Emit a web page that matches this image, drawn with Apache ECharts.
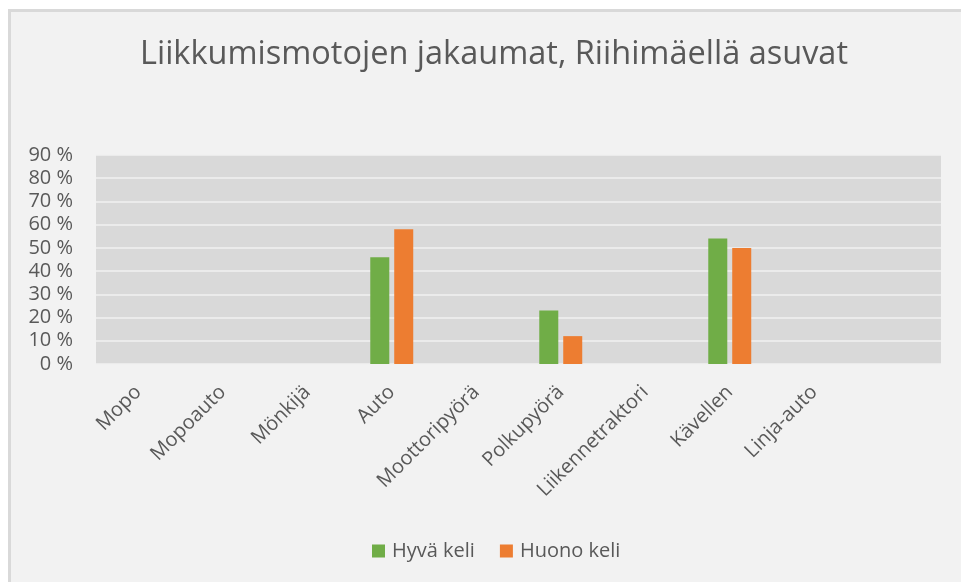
<!DOCTYPE html>
<html>
<head>
<meta charset="utf-8">
<script src="https://cdn.jsdelivr.net/npm/echarts@6/dist/echarts.min.js"></script>
<style>
html,body{margin:0;padding:0;background:#ffffff;}
#chart{width:961px;height:582px;}
</style>
</head>
<body>
<div id="chart"></div>
<script>
var categories = ['Mopo', 'Mopoauto', 'Mönkijä', 'Auto', 'Moottoripyörä', 'Polkupyörä', 'Liikennetraktori', 'Kävellen', 'Linja-auto', ''];
var hyvaKeli = [0, 0, 0, 46, 0, 23, 0, 54, 0, 0];
var huonoKeli = [0, 0, 0, 58, 0, 12, 0, 50, 0, 0];
var seriesNames = ['Hyvä keli', 'Huono keli'];
var yTicks = [0, 10, 20, 30, 40, 50, 60, 70, 80, 90];

var FONT = 'Open Sans';
var TXT = '#595959';
var chart = echarts.init(document.getElementById('chart'));
chart.setOption({
  animation: false,
  backgroundColor: '#ffffff',
  graphic: [{
    type: 'rect', z: -10, silent: true,
    shape: {x: 9.5, y: 10.5, width: 960, height: 580},
    style: {fill: '#f2f2f2', stroke: '#d9d9d9', lineWidth: 3}
  }],
  title: {
    text: 'Liikkumismotojen jakaumat, Riihimäellä asuvat',
    left: 135, top: 33,
    textStyle: {fontFamily: FONT, fontSize: 32.5, fontWeight: 'normal', color: TXT}
  },
  legend: {
    data: seriesNames,
    top: 536, left: 367,
    itemWidth: 13, itemHeight: 13, itemGap: 25,
    icon: 'rect',
    textStyle: {fontFamily: FONT, fontSize: 20, color: TXT, padding: [0, 0, 0, 2]}
  },
  grid: {
    left: 96, right: 20, top: 155, bottom: 218,
    show: true, backgroundColor: '#d9d9d9', borderWidth: 0,
    containLabel: false
  },
  xAxis: {
    type: 'category',
    data: categories,
    boundaryGap: true,
    axisLine: {show: false},
    axisTick: {show: false},
    axisLabel: {
      interval: 0, rotate: 45, margin: 25,
      fontFamily: FONT, fontSize: 20, color: TXT
    }
  },
  yAxis: {
    type: 'value',
    min: yTicks[0], max: yTicks[yTicks.length - 1], interval: 10,
    axisLine: {show: false},
    axisTick: {show: false},
    splitLine: {lineStyle: {color: '#f0f0f0', width: 1.5}},
    axisLabel: {
      margin: 23,
      fontFamily: FONT, fontSize: 20, color: TXT,
      formatter: function (v) { return v + ' %'; }
    }
  },
  series: [
    {name: seriesNames[0], type: 'bar', data: hyvaKeli, barWidth: '22.5%', barGap: '26%',
     itemStyle: {color: '#70ad47'}},
    {name: seriesNames[1], type: 'bar', data: huonoKeli, barWidth: '22.5%', barGap: '26%',
     itemStyle: {color: '#ed7d31'}}
  ]
});
</script>
</body>
</html>
